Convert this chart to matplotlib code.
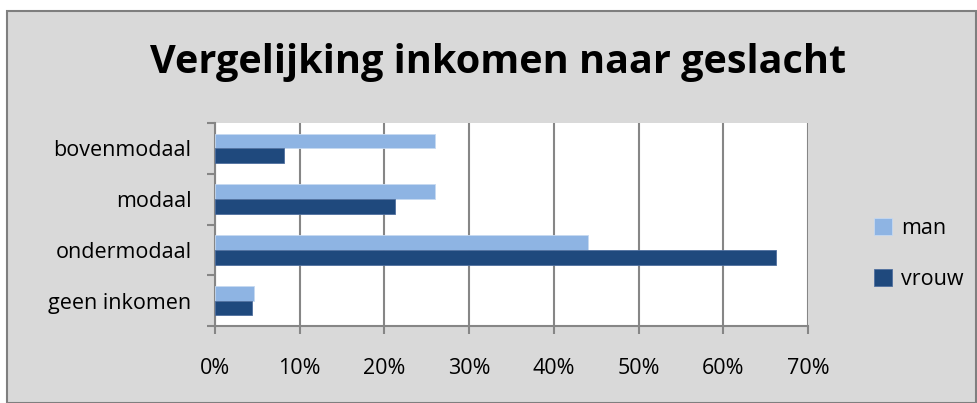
import matplotlib
matplotlib.use("Agg")
import matplotlib.pyplot as plt
from matplotlib.patches import Rectangle
import numpy as np

categories = ["geen inkomen", "ondermodaal", "modaal", "bovenmodaal"]
man = [4.6, 44.0, 26.0, 26.0]
vrouw = [4.4, 66.2, 21.3, 8.2]
xticks = [0, 10, 20, 30, 40, 50, 60, 70]

plt.rcParams['font.family'] = ['Open Sans', 'DejaVu Sans']

bg = '#D9D9D9'
grid_c = '#868686'
c_man = '#8EB4E3'
c_vrouw = '#1F497D'

fig = plt.figure(figsize=(9.77, 4.03), dpi=100, facecolor='white')
# outer chart frame
fig.patches.append(Rectangle((7 / 977, 0), 1 - 7 / 977 - 0.001, 1 - 11 / 403,
                             transform=fig.transFigure, facecolor=bg,
                             edgecolor='#7F7F7F', linewidth=1.5, zorder=-10))

ax = fig.add_axes([215 / 977, 1 - 326 / 403, 593 / 977, 203 / 403])
ax.set_facecolor('white')

y = np.arange(len(categories))
h = 0.29
ax.barh(y + h / 2, man, height=h, color=c_man, edgecolor='#C6D9F1', linewidth=0.6, label='man', zorder=3)
ax.barh(y - h / 2, vrouw, height=h, color=c_vrouw, edgecolor='#4F6F9F', linewidth=0.6, label='vrouw', zorder=3)

ax.set_xlim(0, 70)
ax.set_ylim(-0.5, len(categories) - 0.5)
ax.set_xticks(xticks)
ax.set_xticklabels([f"{t}%" for t in xticks], fontsize=15.5)
ax.set_yticks(y)
ax.set_yticklabels(categories, fontsize=15.5)
ax.tick_params(axis='y', length=0, pad=17)
ax.set_yticks(np.arange(-0.5, len(categories)), minor=True)
ax.tick_params(axis='y', which='minor', length=6, color=grid_c, width=1.5)
ax.tick_params(axis='x', length=6, color=grid_c, width=1.5, pad=17)
ax.xaxis.grid(True, color=grid_c, linewidth=1.5, zorder=1)
ax.set_axisbelow(True)
for side in ['top', 'right']:
    ax.spines[side].set_visible(False)
for side in ['left', 'bottom']:
    ax.spines[side].set_color(grid_c)
    ax.spines[side].set_linewidth(1.5)

fig.text(498 / 977, 1 - 63 / 403, "Vergelijking inkomen naar geslacht", ha='center', va='center',
         fontsize=28.5, fontweight='bold')

fig.legend(loc='center left', bbox_to_anchor=(855 / 977, 1 - 254 / 403), frameon=False,
           fontsize=15.5, handlelength=0.8, handleheight=0.8, labelspacing=1.4, handletextpad=0.45)

fig.savefig('out.png', dpi=100, facecolor=fig.get_facecolor())
